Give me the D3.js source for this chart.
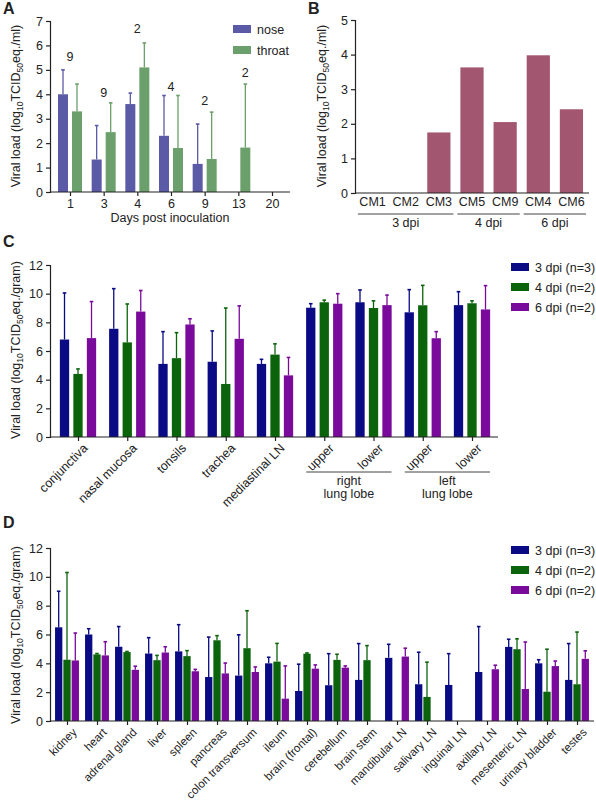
<!DOCTYPE html>
<html>
<head>
<meta charset="utf-8">
<script src="https://cdn.jsdelivr.net/npm/d3@7"></script>
<style>
body { margin: 0; background: white; }
text { font-family: "Liberation Sans", Arial, sans-serif; fill: #222; }
</style>
</head>
<body>
<div id="fig"></div>
<script>
// panel A
let daysA = ["1", "3", "4", "6", "9", "13", "20"];
let noseMean = [4.0, 1.33, 3.6, 2.3, 1.15, null, null];
let noseTop = [5.0, 2.72, 4.05, 3.95, 2.78, null, null];
let throatMean = [3.3, 2.45, 5.1, 1.8, 1.35, 1.82, null];
let throatTop = [4.42, 3.65, 6.1, 3.95, 3.27, 4.42, null];
let nLabels = ["9", "9", "2", "4", "2", "2", ""];
let nLabelY = [5.35, 3.9, 6.5, 4.15, 3.55, 4.7, 0];

// panel B
let animalsB = ["CM1", "CM2", "CM3", "CM5", "CM9", "CM4", "CM6"];
let valuesB = [0, 0, 1.75, 3.63, 2.05, 3.98, 2.42];
let groupsB = [["3 dpi", "CM1", "CM3"], ["4 dpi", "CM5", "CM9"], ["6 dpi", "CM4", "CM6"]];

// panel C
let tissuesC = ["conjunctiva", "nasal mucosa", "tonsils", "trachea", "mediastinal LN", "upper", "lower", "upper ", "lower "];
let c3 = [6.8, 7.55, 5.1, 5.25, 5.1, 9.02, 9.4, 8.7, 9.2];
let c3Top = [10.05, 10.35, 7.35, 7.4, 5.42, 9.3, 10.26, 10.28, 10.14];
let c4 = [4.4, 6.6, 5.5, 3.7, 5.75, 9.4, 9.0, 9.19, 9.33];
let c4Top = [4.75, 9.28, 7.28, 9.0, 6.5, 9.55, 9.5, 10.58, 9.5];
let c6 = [6.9, 8.75, 7.85, 6.85, 4.3, 9.3, 9.2, 6.89, 8.9];
let c6Top = [9.45, 10.22, 8.25, 9.15, 5.55, 10.0, 9.9, 7.35, 10.56];

// panel D
let tissuesD = ["kidney", "heart", "adrenal gland", "liver", "spleen", "pancreas", "colon transversum", "ileum",
  "brain (frontal)", "cerebellum", "brain stem", "mandibular LN", "salivary LN", "inguinal LN", "axillary LN",
  "mesenteric LN", "urinary bladder", "testes"];
let d3dpi = [6.5, 6.0, 5.15, 4.68, 4.83, 3.05, 3.15, 4.0, 2.08, 2.48, 2.85, 4.38, 2.55, 2.5, 3.4, 5.14, 4.0, 2.85];
let d3Top = [9.0, 6.4, 6.55, 5.78, 6.68, 5.82, 5.98, 4.42, 3.94, 4.67, 5.37, 5.32, 4.77, 4.67, 6.55, 5.67, 4.25, 5.37];
let d4dpi = [4.25, 4.62, 4.78, 4.22, 4.5, 5.6, 5.05, 4.12, 4.67, 4.24, 4.22, null, 1.67, null, null, 4.98, 2.03, 2.55];
let d4Top = [10.3, 4.68, 4.82, 4.55, 4.88, 5.92, 7.65, 5.38, 4.72, 4.63, 5.23, null, 4.08, null, null, 5.7, 4.98, 6.17];
let d6dpi = [4.2, 4.55, 3.55, 4.75, 3.45, 3.3, 3.4, 1.55, 3.63, 3.7, null, 4.47, null, null, 3.59, 2.22, 3.81, 4.31];
let d6Top = [6.1, 5.5, 3.8, 5.15, 3.58, 4.02, 3.75, 3.82, 3.89, 3.82, null, 5.05, null, null, 3.87, 5.48, 4.16, 4.87];

let dpiNames = ["3 dpi (n=3)", "4 dpi (n=2)", "6 dpi (n=2)"];
let dpiColors = ["#0a0a85", "#0b640b", "#7a0a9c"];

const FS = 12.5;
const svg = d3.select("#fig").append("svg").attr("width", 596).attr("height", 800);

function letter(x, y, t) {
  svg.append("text").attr("x", x).attr("y", y).attr("font-size", 16).attr("font-weight", "bold").text(t);
}

function yTitle(x, y, unit) {
  const t = svg.append("text").attr("transform", `translate(${x},${y}) rotate(-90)`)
    .attr("text-anchor", "middle").attr("font-size", 12.5);
  t.append("tspan").text("Viral load (log");
  t.append("tspan").attr("font-size", 8.5).attr("dy", 3).text("10");
  t.append("tspan").attr("dy", -3).text("TCID");
  t.append("tspan").attr("font-size", 8.5).attr("dy", 3).text("50");
  t.append("tspan").attr("dy", -3).text("eq./" + unit + ")");
}

function styleAxis(g) {
  g.selectAll(".domain, .tick line").attr("stroke", "#222").attr("stroke-width", 1.2);
  g.selectAll("text").attr("font-size", FS).attr("fill", "#222").attr("font-family", "Liberation Sans, Arial, sans-serif");
}

function bars(g, xs, off, w, vals, tops, y, color) {
  vals.forEach((v, i) => {
    if (v == null) return;
    const cx = xs(i) + off;
    if (tops[i] != null) {
      g.append("line").attr("x1", cx).attr("x2", cx).attr("y1", y(v)).attr("y2", y(tops[i]))
        .attr("stroke", color).attr("stroke-width", 1.3);
      g.append("line").attr("x1", cx - 1.8).attr("x2", cx + 1.8).attr("y1", y(tops[i])).attr("y2", y(tops[i]))
        .attr("stroke", color).attr("stroke-width", 1.6);
    }
    g.append("rect").attr("x", cx - w / 2).attr("width", w).attr("y", y(v)).attr("height", y(0) - y(v))
      .attr("fill", color);
  });
}

function legend(x, y0, names, colors, gap) {
  names.forEach((n, i) => {
    svg.append("rect").attr("x", x).attr("y", y0 + i * gap - 5).attr("width", 18).attr("height", 8).attr("fill", colors[i]);
    svg.append("text").attr("x", x + 24).attr("y", y0 + i * gap + 4).attr("font-size", FS).text(n);
  });
}

// ---- A ----
{
  const y = d3.scaleLinear([0, 7], [192, 21]);
  const xp = d3.scalePoint(daysA, [70, 272]);
  const xs = i => xp(daysA[i]);
  const g = svg.append("g");
  bars(g, xs, -7, 10, noseMean, noseTop, y, "#5b5aa6");
  bars(g, xs, 7, 10, throatMean, throatTop, y, "#6b9f6b");
  const ax = svg.append("g").attr("transform", "translate(50,0)").call(d3.axisLeft(y).ticks(7).tickSize(4));
  styleAxis(ax);
  const bx = svg.append("g").attr("transform", "translate(0,192)").call(d3.axisBottom(xp).tickSize(4));
  bx.select(".domain").attr("d", "M50,0H290");
  styleAxis(bx);
  nLabels.forEach((n, i) => {
    if (!n) return;
    svg.append("text").attr("x", xs(i) + (i == 5 ? 7 : 0)).attr("y", y(nLabelY[i])).attr("text-anchor", "middle")
      .attr("font-size", FS).text(n);
  });
  legend(233, 30, ["nose", "throat"], ["#5b5aa6", "#6b9f6b"], 21);
  svg.append("text").attr("x", 170).attr("y", 222).attr("text-anchor", "middle").attr("font-size", FS)
    .text("Days post inoculation");
  yTitle(20, 106, "ml");
  letter(3, 14, "A");
}

// ---- B ----
{
  const y = d3.scaleLinear([0, 5], [193, 20]);
  const x = d3.scaleBand(animalsB, [355, 589]).paddingInner(0.3).paddingOuter(0.18);
  const g = svg.append("g");
  valuesB.forEach((v, i) => {
    g.append("rect").attr("x", x(animalsB[i])).attr("width", x.bandwidth()).attr("y", y(v))
      .attr("height", y(0) - y(v)).attr("fill", "#a3566f");
  });
  const ax = svg.append("g").attr("transform", "translate(355,0)").call(d3.axisLeft(y).ticks(5).tickSize(4));
  styleAxis(ax);
  const bx = svg.append("g").attr("transform", "translate(0,193)").call(d3.axisBottom(x).tickSize(0).tickPadding(4));
  bx.select(".domain").attr("d", "M355,0H589");
  styleAxis(bx);
  groupsB.forEach(([lab, a, b]) => {
    const x1 = x(a) - 3, x2 = x(b) + x.bandwidth() + 3;
    svg.append("line").attr("x1", x1).attr("x2", x2).attr("y1", 214).attr("y2", 214).attr("stroke", "#444");
    svg.append("text").attr("x", (x1 + x2) / 2).attr("y", 227).attr("text-anchor", "middle").attr("font-size", FS).text(lab);
  });
  yTitle(326, 106, "ml");
  letter(308, 14, "B");
}

// ---- C ----
{
  const y = d3.scaleLinear([0, 12], [437, 265]);
  const xp = d3.scalePoint(tissuesC, [78, 472]);
  const xs = i => xp(tissuesC[i]);
  const g = svg.append("g");
  bars(g, xs, -13.5, 9.3, c3, c3Top, y, dpiColors[0]);
  bars(g, xs, 0, 9.3, c4, c4Top, y, dpiColors[1]);
  bars(g, xs, 13.5, 9.3, c6, c6Top, y, dpiColors[2]);
  const ax = svg.append("g").attr("transform", "translate(50,0)").call(d3.axisLeft(y).ticks(6).tickSize(4));
  styleAxis(ax);
  const bx = svg.append("g").attr("transform", "translate(0,437)").call(d3.axisBottom(xp).tickSize(4));
  bx.select(".domain").attr("d", "M50,0H498");
  styleAxis(bx);
  bx.selectAll(".tick text").attr("text-anchor", "end").attr("dy", 0)
    .attr("transform", "translate(5,7) rotate(-45)").text(d => d.trim());
  [["right", 5, 6], ["left", 7, 8]].forEach(([lab, a, b]) => {
    const x1 = xs(a) - 18, x2 = xs(b) + 18;
    svg.append("line").attr("x1", x1).attr("x2", x2).attr("y1", 472).attr("y2", 472).attr("stroke", "#444");
    svg.append("text").attr("x", (x1 + x2) / 2).attr("y", 485).attr("text-anchor", "middle").attr("font-size", FS).text(lab);
    svg.append("text").attr("x", (x1 + x2) / 2).attr("y", 498).attr("text-anchor", "middle").attr("font-size", FS).text("lung lobe");
  });
  legend(511, 268, dpiNames, dpiColors, 20);
  yTitle(20, 350, "gram");
  letter(3, 247, "C");
}

// ---- D ----
{
  const y = d3.scaleLinear([0, 12], [721, 548]);
  const xp = d3.scalePoint(tissuesD, [67, 577]);
  const xs = i => xp(tissuesD[i]);
  const g = svg.append("g");
  bars(g, xs, -8.3, 7.3, d3dpi, d3Top, y, dpiColors[0]);
  bars(g, xs, 0, 7.3, d4dpi, d4Top, y, dpiColors[1]);
  bars(g, xs, 8.3, 7.3, d6dpi, d6Top, y, dpiColors[2]);
  const ax = svg.append("g").attr("transform", "translate(50,0)").call(d3.axisLeft(y).ticks(6).tickSize(4));
  styleAxis(ax);
  const bx = svg.append("g").attr("transform", "translate(0,721)").call(d3.axisBottom(xp).tickSize(4));
  bx.select(".domain").attr("d", "M50,0H594");
  styleAxis(bx);
  bx.selectAll(".tick text").attr("text-anchor", "end").attr("dy", 0).attr("font-size", 11.5)
    .attr("transform", "translate(5,7) rotate(-45)");
  legend(511, 551, dpiNames, dpiColors, 20);
  yTitle(20, 635, "gram");
  letter(3, 528, "D");
}
</script>
</body>
</html>
